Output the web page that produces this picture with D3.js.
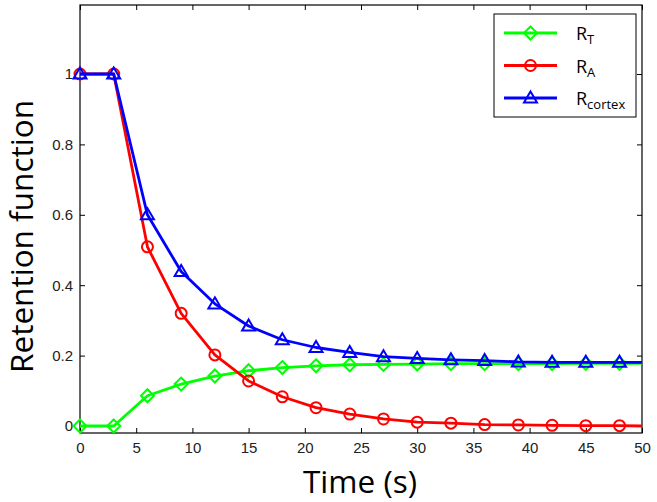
<!DOCTYPE html>
<html><head><meta charset="utf-8">
<script src="https://cdn.jsdelivr.net/npm/d3@7"></script>
<style>body{margin:0;background:#fff}svg{display:block}</style>
</head><body>
<script>
const time   = [0,3,6,9,12,15,18,21,24,27,30,33,36,39,42,45,48,50];
const rT     = [0,0,0.086,0.119,0.142,0.157,0.166,0.171,0.174,0.175,0.176,0.177,0.177,0.177,0.177,0.178,0.178,0.178];
const rA     = [1,1,0.509,0.32,0.202,0.128,0.083,0.052,0.034,0.02,0.011,0.008,0.004,0.003,0.002,0.001,0.001,0];
const rCortex= [1,1,0.6,0.439,0.347,0.284,0.245,0.223,0.209,0.197,0.192,0.188,0.186,0.182,0.181,0.181,0.181,0.181];
const xTicks = [0,5,10,15,20,25,30,35,40,45,50];
const yTicks = [0,0.2,0.4,0.6,0.8,1];
const yTickLabels = ["0","0.2","0.4","0.6","0.8","1"];
const seriesNames = ["T","A","cortex"];
const seriesColors = ["#00ff00","#ff0000","#0000ff"];
const seriesMarkers = ["diamond","circle","triangle"];
const markerEvery = time.map(t => t <= 48);

const W=657,H=502;
const L=80,R=642,T=5,B=433;
const svg=d3.select("body").append("svg").attr("width",W).attr("height",H);
const x=d3.scaleLinear().domain([0,50]).range([L,R]);
const y=d3.scaleLinear().domain([0,1]).range([426,74]);

svg.append("rect").attr("x",L).attr("y",T).attr("width",R-L).attr("height",B-T)
  .attr("fill","none").attr("stroke","#000").attr("stroke-width",1.2);

const font="Liberation Sans, Arial, sans-serif";
const gx=svg.append("g").attr("transform",`translate(0,${B})`)
  .call(d3.axisBottom(x).tickValues(xTicks).tickSize(-5).tickPadding(9).tickFormat(d3.format("d")));
const gxTop=svg.append("g").attr("transform",`translate(0,${T})`)
  .call(d3.axisTop(x).tickValues(xTicks).tickSize(-5).tickFormat(""));
const gy=svg.append("g").attr("transform",`translate(${L},0)`)
  .call(d3.axisLeft(y).tickValues(yTicks).tickSize(-5).tickPadding(9).tickFormat((d,i)=>yTickLabels[i]));
const gyR=svg.append("g").attr("transform",`translate(${R},0)`)
  .call(d3.axisRight(y).tickValues(yTicks).tickSize(-5).tickFormat(""));
[gx,gxTop,gy,gyR].forEach(g=>{
  g.select(".domain").remove();
  g.selectAll(".tick line").attr("stroke","#000").attr("stroke-width",1);
  g.selectAll("text").attr("font-family",font).attr("font-size",15).attr("fill","#222");
});
gy.selectAll("text").attr("dx","2");

const data=[rT,rA,rCortex];
const line=d3.line().x((d,i)=>x(time[i])).y(d=>y(d));

function marker(g,type,cx,cy,color){
  if(type==="circle"){
    g.append("circle").attr("cx",cx).attr("cy",cy).attr("r",5.5)
     .attr("fill","none").attr("stroke",color).attr("stroke-width",2);
  } else if(type==="diamond"){
    const s=6.5;
    g.append("path").attr("d",`M${cx},${cy-s}L${cx+s},${cy}L${cx},${cy+s}L${cx-s},${cy}Z`)
     .attr("fill","none").attr("stroke",color).attr("stroke-width",2);
  } else {
    const s=6.5;
    g.append("path").attr("d",`M${cx},${cy-s}L${cx+s},${cy+s*0.7}L${cx-s},${cy+s*0.7}Z`)
     .attr("fill","none").attr("stroke",color).attr("stroke-width",2);
  }
}

data.forEach((vals,k)=>{
  const g=svg.append("g");
  g.append("path").datum(vals).attr("d",line).attr("fill","none")
   .attr("stroke",seriesColors[k]).attr("stroke-width",2.8).attr("stroke-linejoin","round");
  vals.forEach((v,i)=>{ if(markerEvery[i]) marker(g,seriesMarkers[k],x(time[i]),y(v),seriesColors[k]); });
});

const lg=svg.append("g");
lg.append("rect").attr("x",494).attr("y",14).attr("width",142).attr("height",103)
  .attr("fill","#fff").attr("stroke","#000").attr("stroke-width",1);
seriesNames.forEach((n,k)=>{
  const yy=33+k*32.5;
  lg.append("line").attr("x1",504).attr("x2",557).attr("y1",yy).attr("y2",yy)
    .attr("stroke",seriesColors[k]).attr("stroke-width",2.8);
  marker(lg,seriesMarkers[k],530.5,yy,seriesColors[k]);
  const t=lg.append("text").attr("x",576).attr("y",yy+7).attr("font-family","Open Sans, sans-serif")
    .attr("font-size",18).attr("fill","#000");
  t.append("tspan").text("R");
  t.append("tspan").attr("font-size",13).attr("dy",4).text(n);
});

svg.append("text").attr("x",303).attr("y",493).attr("textLength",114).attr("lengthAdjust","spacingAndGlyphs")
  .attr("font-family","Open Sans, sans-serif").attr("font-size",31).attr("fill","#000").text("Time (s)");
svg.append("text").attr("transform","translate(33,373) rotate(-90)").attr("textLength",273).attr("lengthAdjust","spacingAndGlyphs")
  .attr("font-family","Open Sans, sans-serif").attr("font-size",31).attr("fill","#000").text("Retention function");
</script>
</body></html>
